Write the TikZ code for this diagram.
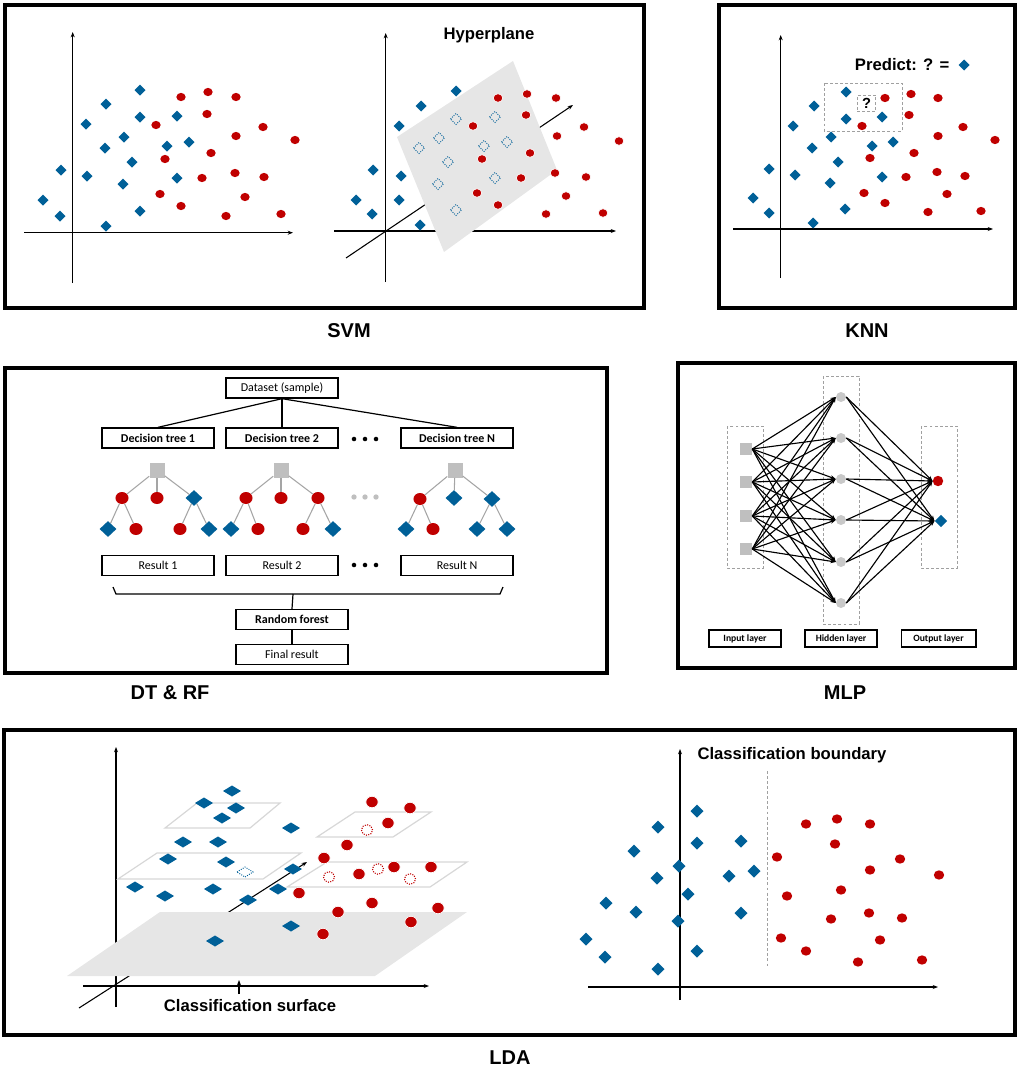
\documentclass[tikz,border=0pt]{standalone}
\usepackage{fontspec}
\setmainfont{Liberation Sans}
\newfontfamily\calfont{Carlito}
\usetikzlibrary{shapes.geometric,arrows.meta}
\definecolor{dblue}{RGB}{0,96,152}
\definecolor{dred}{RGB}{192,0,0}
\definecolor{planeg}{RGB}{230,230,230}
\definecolor{nodeg}{RGB}{191,191,191}
\definecolor{hidg}{RGB}{200,200,200}
\definecolor{dashg}{RGB}{160,160,160}
\definecolor{edgeg}{RGB}{165,165,165}
\definecolor{outlg}{RGB}{215,215,215}
\tikzset{
  panel/.style={line width=2.3pt},
  axis/.style={line width=0.8pt,-{Stealth[length=4pt,width=3pt]}},
  axisplain/.style={line width=0.8pt},
  title/.style={font=\fontsize{15}{18}\selectfont\bfseries},
  label/.style={font=\fontsize{12.5}{15}\selectfont\bfseries},
  dtbox/.style={draw,line width=1pt,minimum width=84pt,minimum height=15pt,inner sep=0pt,font=\calfont\fontsize{9}{11}\selectfont},
  tsq/.style={rectangle,fill=nodeg,minimum size=11.25pt,inner sep=0pt},
  tc/.style={ellipse,fill=dred,minimum width=9.8pt,minimum height=9pt,inner sep=0pt},
  td/.style={diamond,fill=dblue,minimum width=12.75pt,minimum height=12pt,inner sep=0pt},
  tedge/.style={draw=edgeg,line width=0.8pt},
  dashbox/.style={draw=dashg,line width=0.7pt,dash pattern=on 2.2pt off 1.6pt},
  mlpbox/.style={draw,line width=1pt,minimum height=12.75pt,inner sep=0pt,font=\calfont\bfseries\fontsize{7.2}{9}\selectfont},
  insq/.style={rectangle,fill=nodeg,minimum size=9pt,inner sep=0pt},
  hc/.style={circle,fill=hidg,minimum size=7.5pt,inner sep=0pt},
  arr/.style={line width=0.85pt,-{Stealth[length=4pt,width=3pt]}},
}
\begin{document}
\begin{tikzpicture}[x=0.75pt,y=-0.75pt]
\useasboundingbox (0,0) rectangle (1021,1071);

% ================= SVM =================
\draw[panel] (5,5) rectangle (644,308);
% left plot
\draw[axis] (72.7,283) -- (72.7,32);
\draw[axis] (24,232.7) -- (293,232.7);
\foreach \x/\y in {140/90,106/104,86/124,140/117,177/116,124/137,105/148,167/146,189/142,132/162,61/170,87/176,177/178,123/184,43/200,60/216,140/211,106/226}
  \fill[dblue] (\x,\y) +(-5.5,0) -- +(0,-5.5) -- +(5.5,0) -- +(0,5.5) -- cycle;
\foreach \x/\y in {181/97,208/92,236/97,207/114,156/125,263/127,236/136,295/140,165/159,211/153,235/173,202/178,264/177,160/194,245/197,181/206,226/216,281/214}
  \fill[dred] (\x,\y) ellipse [x radius=3.5pt, y radius=3.1pt];
% right plot
\draw[axis] (385.7,282) -- (385.7,33);
\draw[axis] (334,231) -- (616,231);
\draw[axis] (346,258) -- (573,105);
\fill[planeg] (397,137) -- (513,61) -- (557,170) -- (444,252) -- cycle;
\node[label] (hyp) at (489,35) {Hyperplane};
\foreach \x/\y in {456/91,421/106,399/126,373/170,401/176,356/200,399/200,372/214,420/225}
  \fill[dblue] (\x,\y) +(-5.5,0) -- +(0,-5.5) -- +(5.5,0) -- +(0,5.5) -- cycle;
\foreach \x/\y in {456/119,495/117,439/138,419/148,484/146,507/142,448/162,438/184,495/178,456/210}
  \draw[dblue,line width=0.7pt,densely dotted] (\x,\y) +(-5.5,0) -- +(0,-5.5) -- +(5.5,0) -- +(0,5.5) -- cycle;
\foreach \x/\y in {498/98,527/94,556/98,526/115,473/126,584/127,557/136,619/141,482/159,530/153,555/173,521/178,586/177,477/193,566/196,498/205,546/214,603/213}
  \filldraw[fill=dred,draw=white,line width=0.5pt] (\x,\y) ellipse [x radius=3.6pt, y radius=3.2pt];
\node[title] (svmlab) at (349,331) {SVM};

% ================= KNN =================
\draw[panel] (719,5) rectangle (1015,308);
\draw[axis] (780.7,278) -- (780.7,35);
\draw[axis] (733,229) -- (993,229);
\draw[dashbox] (824,83) rectangle (902,131);
\node[dashbox,minimum width=14pt,minimum height=12.5pt,inner sep=0pt,font=\fontsize{11}{13}\selectfont\bfseries] (qbox) at (866.5,103.5) {?};
\foreach \x/\y in {846/92,814/106,793/126,846/119,882/117,831/137,812/148,872/146,893/142,838/162,769/169,795/175,882/177,830/183,753/198,769/213,845/209,813/223}
  \fill[dblue] (\x,\y) +(-5.5,0) -- +(0,-5.5) -- +(5.5,0) -- +(0,5.5) -- cycle;
\foreach \x/\y in {885/98,911/94,938/98,909/115,862/126,963/127,938/136,995/140,870/158,914/153,937/172,906/177,965/176,864/193,947/194,885/203,928/212,981/211}
  \fill[dred] (\x,\y) ellipse [x radius=3.5pt, y radius=3.1pt];
\node[label,anchor=east] (pred) at (954,65) {Predict: ? =};
\fill[dblue] (964,65) +(-5.5,0) -- +(0,-5.5) -- +(5.5,0) -- +(0,5.5) -- cycle;
\node[title] (knnlab) at (867,331) {KNN};

% ================= DT & RF =================
\draw[panel] (5,368) rectangle (607,673);
\node[dtbox] (ds) at (282,388) {Dataset (sample)};
\node[dtbox,font=\calfont\bfseries\fontsize{9}{11}\selectfont] (dt1) at (158,438) {Decision tree 1};
\node[dtbox,font=\calfont\bfseries\fontsize{9}{11}\selectfont] (dt2) at (282,438) {Decision tree 2};
\node[dtbox,font=\calfont\bfseries\fontsize{9}{11}\selectfont] (dtn) at (457,438) {Decision tree N};
\draw[line width=0.9pt] (ds.south) -- (dt1.north);
\draw[line width=0.9pt] (ds.south) -- (dt2.north);
\draw[line width=0.9pt] (ds.south) -- (dtn.north);
\foreach \x in {354,365,376} {\fill (\x,439) circle [radius=1.7pt]; \fill (\x,565) circle [radius=1.7pt]; \fill[nodeg] (\x,497) circle [radius=2pt];}
% tree 1
\node[tsq] (t1r) at (157,470) {};
\node[tc] (t1a) at (122,498) {}; \node[tc] (t1b) at (157,498) {}; \node[td] (t1c) at (194,498) {};
\node[td] (t1d) at (108,529) {}; \node[tc] (t1e) at (136,529) {}; \node[tc] (t1f) at (180,529) {}; \node[td] (t1g) at (209,529) {};
% tree 2
\node[tsq] (t2r) at (281,470) {};
\node[tc] (t2a) at (246,498) {}; \node[tc] (t2b) at (281,498) {}; \node[tc] (t2c) at (318,498) {};
\node[td] (t2d) at (231,529) {}; \node[tc] (t2e) at (258,529) {}; \node[tc] (t2f) at (303,529) {}; \node[td] (t2g) at (333,529) {};
% tree N
\node[tsq] (t3r) at (455,470) {};
\node[tc] (t3a) at (420,499) {}; \node[td] (t3b) at (454,498) {}; \node[td] (t3c) at (492,499) {};
\node[td] (t3d) at (406,529) {}; \node[tc] (t3e) at (433,529) {}; \node[td] (t3f) at (477,529) {}; \node[td] (t3g) at (507,529) {};
\foreach \t in {1,2,3} {
  \draw[tedge] (t\t r) -- (t\t a); \draw[tedge] (t\t r) -- (t\t b); \draw[tedge] (t\t r) -- (t\t c);
  \draw[tedge] (t\t a) -- (t\t d); \draw[tedge] (t\t a) -- (t\t e);
  \draw[tedge] (t\t c) -- (t\t f); \draw[tedge] (t\t c) -- (t\t g);
}
\node[dtbox] (r1) at (158,565.5) {Result 1};
\node[dtbox] (r2) at (282,565.5) {Result 2};
\node[dtbox] (rn) at (457,565.5) {Result N};
\coordinate (bl) at (113,587);
\coordinate (br) at (503,587);
\coordinate (bm) at (293,594);
\draw[line width=0.9pt] (bl) -- (116,594) -- (500,594) -- (br);
\node[dtbox,font=\calfont\bfseries\fontsize{9}{11}\selectfont] (rf) at (292,619.5) {Random forest};
\node[dtbox] (fr) at (292,654.5) {Final result};
\draw[line width=0.9pt] (bm) -- (rf.north);
\draw[line width=0.9pt] (rf) -- (fr);
\node[title] (dtlab) at (170,693) {DT \& RF};

% ================= MLP =================
\draw[panel] (678,363) rectangle (1015,668);
\draw[dashbox] (727,426) rectangle (763,568);
\draw[dashbox] (823,376) rectangle (859,624);
\draw[dashbox] (921,426) rectangle (957,568);
\foreach \i/\y in {1/449,2/482,3/516,4/549} \node[insq] (in\i) at (746,\y) {};
\foreach \j/\y in {1/397,2/438,3/479,4/520,5/562,6/603} \node[hc] (h\j) at (841,\y) {};
\node[circle,fill=dred,minimum size=7.8pt,inner sep=0pt] (o1) at (938,481) {};
\node[diamond,fill=dblue,minimum size=9.5pt,inner sep=0pt] (o2) at (941,521) {};
\foreach \i in {1,...,4} \foreach \j in {1,...,6} \draw[arr] (in\i.east) -- (h\j.west);
\foreach \j in {1,...,6} {\draw[arr] (h\j.east) -- (o1.west); \draw[arr] (h\j.east) -- (o2.west);}
\node[mlpbox,minimum width=54pt] (il) at (745,638.5) {Input layer};
\node[mlpbox,minimum width=54pt] (hl) at (841,638.5) {Hidden layer};
\node[mlpbox,minimum width=56pt] (ol) at (938.5,638.5) {Output layer};
\node[title] (mlplab) at (845,693) {MLP};

% ================= LDA =================
\draw[panel] (4,730) rectangle (1015,1035);
% left 3D plot
\draw[axis] (116,1007) -- (116,747);
\draw[axis] (83,986) -- (429,986);
\draw[axis] (79,1008) -- (307,862);
\fill[planeg] (67,976) -- (160,912) -- (467,912) -- (375,976) -- cycle;
\draw[axis] (239,994) -- (239,980);
\draw[outlg,line width=0.9pt] (165,828) -- (197,803) -- (280,803) -- (250,828) -- cycle;
\draw[outlg,line width=0.9pt] (317,837) -- (355,812) -- (431,812) -- (393,837) -- cycle;
\draw[outlg,line width=0.9pt] (118,879) -- (157,853) -- (301,853) -- (263,879) -- cycle;
\draw[outlg,line width=0.9pt] (287,887) -- (327,862) -- (467,862) -- (430,887) -- cycle;
\foreach \x/\y in {232/791,204/803,236/808,222/818,291/828,183/842,218/842,168/859,226/862,135/887,165/896,213/889,293/869,278/889,248/900,215/941,291/926}
  \fill[dblue] (\x,\y) +(-9,0) -- +(0,-5.5) -- +(9,0) -- +(0,5.5) -- cycle;
\draw[dblue,line width=0.7pt,densely dotted] (245,872) +(-8,0) -- +(0,-5) -- +(8,0) -- +(0,5) -- cycle;
\foreach \x/\y in {372/802,410/808,388/823,347/845,324/858,359/874,394/867,431/867,299/893,372/903,338/912,438/908,411/922,323/934}
  \filldraw[fill=dred,draw=white,line width=0.5pt] (\x,\y) ellipse [x radius=4.6pt, y radius=4.3pt];
\foreach \x/\y in {367/830,329/877,378/869,410/879}
  \draw[dred,line width=0.8pt,densely dotted] (\x,\y) ellipse [x radius=4.2pt, y radius=4pt];
\node[label] (surf) at (250,1006) {Classification surface};
% right plot
\draw[axis] (680,1000) -- (680,749);
\draw[axis] (588,987) -- (938,987);
\draw[dashg,line width=0.7pt,dash pattern=on 2.2pt off 1.6pt] (767,771) -- (767,967);
\node[label] (bnd) at (792,755) {Classification boundary};
\foreach \x/\y in {697/811,658/827,634/851,697/843,741/841,679/866,657/878,729/876,754/871,688/894,606/903,636/912,741/913,678/921,586/939,605/957,697/951,658/969}
  \fill[dblue] (\x,\y) +(-6.5,0) -- +(0,-6.5) -- +(6.5,0) -- +(0,6.5) -- cycle;
\foreach \x/\y in {806/824,837/819,870/824,835/844,777/857,900/859,870/870,939/875,787/896,841/890,869/913,831/919,902/918,781/938,880/940,806/951,858/962,922/960}
  \fill[dred] (\x,\y) ellipse [x radius=3.9pt, y radius=3.5pt];
\node[title] (ldalab) at (510,1058) {LDA};
\end{tikzpicture}
\end{document}
